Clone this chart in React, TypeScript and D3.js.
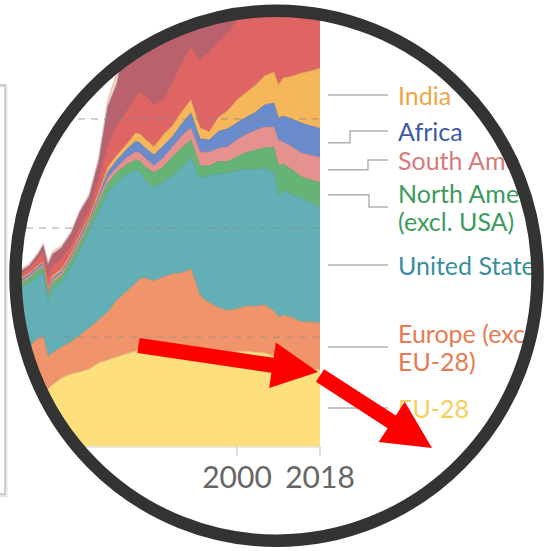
import React, { useRef, useEffect } from 'react';
import * as d3 from 'd3';

// years visible inside the magnifier
const years = [1952, 1955, 1957, 1958, 1959, 1960, 1962, 1964, 1966, 1968, 1970, 1972, 1974, 1976, 1978, 1979, 1980, 1982, 1984, 1986, 1988, 1990, 1992, 1994, 1996, 1998, 2000, 2002, 2004, 2006, 2008, 2009, 2010, 2012, 2014, 2016, 2018];

// annual CO2 emissions by region (billion tonnes)
const eu28 = [2.22, 2.36, 2.45, 2.5, 2.63, 2.82, 3.14, 3.32, 3.41, 3.55, 3.82, 3.96, 4.1, 4.24, 4.37, 4.42, 4.42, 4.19, 4.28, 4.33, 4.37, 4.42, 4.33, 4.28, 4.35, 4.3, 4.33, 4.36, 4.31, 4.28, 4.14, 3.82, 3.96, 3.78, 3.59, 3.55, 3.5];
const europeExcl = [2.11, 2.24, 2.52, 2.52, 1.47, 1.47, 1.42, 1.47, 1.69, 1.88, 1.97, 2.2, 2.61, 2.84, 3.11, 3.25, 3.3, 3.39, 3.48, 3.57, 3.57, 3.71, 2.56, 2.29, 2.01, 1.92, 1.97, 2.06, 2.11, 2.2, 2.06, 2.11, 2.06, 2.11, 2.11, 2.15, 2.15];
const unitedStates = [2.75, 2.88, 2.84, 2.93, 2.52, 2.93, 2.98, 3.43, 3.89, 4.49, 4.95, 5.45, 5.4, 5.36, 5.17, 4.9, 4.49, 4.26, 4.35, 4.49, 4.81, 5.08, 5.4, 5.82, 6.14, 6.27, 6.32, 6.27, 6.27, 6.27, 6.36, 5.54, 5.72, 5.63, 5.68, 5.45, 5.31];
const northAmericaExcl = [0.23, 0.23, 0.27, 0.27, 0.32, 0.27, 0.27, 0.27, 0.32, 0.27, 0.41, 0.46, 0.46, 0.46, 0.46, 0.5, 0.6, 0.69, 0.69, 0.87, 0.92, 0.82, 0.55, 0.46, 0.55, 0.55, 0.64, 0.78, 0.87, 0.92, 1.14, 1.37, 1.19, 1.14, 0.96, 1.05, 1.14];
const southAmerica = [0.09, 0.09, 0.09, 0.09, 0.14, 0.14, 0.14, 0.14, 0.18, 0.14, 0.18, 0.23, 0.23, 0.32, 0.37, 0.37, 0.41, 0.32, 0.41, 0.46, 0.55, 0.55, 0.64, 0.64, 0.6, 0.69, 0.78, 0.82, 0.92, 0.96, 0.92, 1.19, 1.01, 1.05, 1.1, 1.14, 1.14];
const africa = [0.09, 0.09, 0.09, 0.09, 0.09, 0.09, 0.09, 0.09, 0.14, 0.09, 0.14, 0.27, 0.32, 0.37, 0.5, 0.46, 0.46, 0.5, 0.55, 0.46, 0.55, 0.69, 0.6, 0.55, 0.78, 0.82, 0.78, 0.78, 0.82, 1.01, 1.1, 1.01, 1.19, 1.28, 1.37, 1.33, 1.33];
const india = [0.05, 0.05, 0.05, 0.05, 0.05, 0.09, 0.09, 0.09, 0.09, 0.09, 0.14, 0.23, 0.23, 0.23, 0.37, 0.41, 0.41, 0.37, 0.5, 0.5, 0.55, 0.6, 0.5, 0.37, 0.64, 0.82, 1.05, 1.14, 1.24, 1.33, 1.42, 1.51, 1.74, 1.97, 2.29, 2.52, 2.75];
const china = [0.23, 0.23, 0.32, 0.46, 0.5, 0.5, 0.46, 0.41, 0.37, 0.37, 0.6, 0.96, 1.37, 1.51, 1.65, 1.92, 2.01, 1.92, 1.6, 2.01, 2.29, 2.38, 3.11, 3.66, 3.48, 3.57, 3.66, 4.03, 5.04, 6.23, 7.42, 8.2, 8.61, 9.43, 9.75, 9.66, 9.98];
const asiaExcl = [0.09, 0.09, 0.18, 0.27, 0.55, 0.46, 0.5, 0.5, 0.64, 0.55, 0.78, 1.74, 1.83, 3.3, 3.98, 4.21, 4.35, 4.58, 4.58, 4.67, 4.67, 4.95, 5.04, 5.13, 5.13, 5.13, 5.04, 4.81, 5.0, 5.3, 5.6, 5.6, 5.9, 6.2, 6.4, 6.5, 6.7];
const oceania = [0.03, 0.03, 0.03, 0.03, 0.03, 0.03, 0.03, 0.03, 0.03, 0.03, 0.05, 0.09, 0.09, 0.1, 0.1, 0.1, 0.1, 0.1, 0.1, 0.1, 0.1, 0.1, 0.1, 0.1, 0.1, 0.1, 0.1, 0.1, 0.1, 0.1, 0.1, 0.1, 0.1, 0.1, 0.1, 0.1, 0.1];
const transport = [0.09, 0.09, 0.09, 0.09, 0.14, 0.14, 0.09, 0.09, 0.09, 0.14, 0.18, 0.3, 0.51, 0.65, 0.7, 0.7, 0.7, 0.7, 0.72, 0.75, 0.78, 0.8, 0.82, 0.85, 0.9, 0.95, 1.0, 1.0, 1.05, 1.1, 1.15, 1.1, 1.15, 1.15, 1.2, 1.2, 1.25];

const regionNames = ['EU-28', 'Europe (excl. EU-28)', 'United States', 'North America (excl. USA)', 'South America', 'Africa', 'India', 'China', 'Asia (excl. China & India)', 'Oceania', 'International transport'];
const regionValues = [eu28, europeExcl, unitedStates, northAmericaExcl, southAmerica, africa, india, china, asiaExcl, oceania, transport];
const fillColors = ['#fddf7d', '#f0956b', '#63afb6', '#66b475', '#e4918f', '#6a8bcb', '#f6b65a', '#df6464', '#b9626e', '#b58ac6', '#f8d3b6'];

const tickYears = [2000, 2018];
const gridValues = [5, 10, 15];

// right-hand labels: region, text lines, text colour, label y, elbow x
const labelRows = [
  { region: 'India', lines: ['India'], color: '#eda547', y: 95, elbow: 0 },
  { region: 'Africa', lines: ['Africa'], color: '#3d5aa6', y: 131, elbow: 350 },
  { region: 'South America', lines: ['South America'], color: '#d9797c', y: 160, elbow: 368 },
  { region: 'North America (excl. USA)', lines: ['North America', '(excl. USA)'], color: '#3e9a5d', y: 207, elbow: 369 },
  { region: 'United States', lines: ['United States'], color: '#3b8e9b', y: 265, elbow: 0 },
  { region: 'Europe (excl. EU-28)', lines: ['Europe (excl.', 'EU-28)'], color: '#e57c52', y: 347, elbow: 0 },
  { region: 'EU-28', lines: ['EU-28'], color: '#f4d05a', y: 408, elbow: 0 },
];

const W = 549;
const H = 551;

function arrowPoints(x1: number, y1: number, x2: number, y2: number, shaft: number, headL: number, headW: number) {
  const a = Math.atan2(y2 - y1, x2 - x1);
  const ux = Math.cos(a), uy = Math.sin(a);
  const px = -uy, py = ux;
  const bx = x2 - ux * headL, by = y2 - uy * headL;
  const pts = [
    [x1 + px * shaft / 2, y1 + py * shaft / 2],
    [bx + px * shaft / 2, by + py * shaft / 2],
    [bx + px * headW / 2, by + py * headW / 2],
    [x2, y2],
    [bx - px * headW / 2, by - py * headW / 2],
    [bx - px * shaft / 2, by - py * shaft / 2],
    [x1 - px * shaft / 2, y1 - py * shaft / 2],
  ];
  return pts.map(p => p.join(',')).join(' ');
}

export default function App() {
  const ref = useRef<SVGSVGElement>(null);

  useEffect(() => {
    if (!ref.current) return;
    const svg = d3.select(ref.current);
    svg.selectAll('*').remove();

    const x = d3.scaleLinear().domain([2000, 2018]).range([237, 320]);
    const y = d3.scaleLinear().domain([0, 20]).range([446.5, 9.7]);

    const rows = years.map((yr, i) => {
      const row: any = { year: yr };
      regionNames.forEach((n, k) => (row[n] = regionValues[k][i]));
      return row;
    });
    const layers = d3.stack().keys(regionNames)(rows);

    svg.append('rect').attr('width', W).attr('height', H).attr('fill', '#fff');

    // edge of the panel behind the magnifier
    const panel = svg.append('g');
    panel.append('path').attr('d', 'M0,86 L6,86 L6,496 L0,496').attr('fill', 'none').attr('stroke', '#e6e6e6').attr('stroke-width', 3);
    panel.append('path').attr('d', 'M0,85 L5,85 L5,494 L0,494').attr('fill', 'none').attr('stroke', '#bdbdbd').attr('stroke-width', 1.3);

    const cx = 276.5, cy = 275.7, rx = 261, ry = 265;
    svg.append('defs').append('clipPath').attr('id', 'lens')
      .append('ellipse').attr('cx', cx).attr('cy', cy).attr('rx', rx - 4).attr('ry', ry - 4);

    const g = svg.append('g').attr('clip-path', 'url(#lens)');
    g.append('rect').attr('width', W).attr('height', H).attr('fill', '#fff');

    const area = d3.area<any>()
      .x(d => x(d.data.year))
      .y0(d => y(d[0]))
      .y1(d => y(d[1]));
    const top = d3.line<any>().x(d => x(d.data.year)).y(d => y(d[1]));

    g.selectAll('path.layer')
      .data(layers)
      .enter()
      .append('path')
      .attr('class', 'layer')
      .attr('fill', (d, i) => fillColors[i])
      .attr('d', area as any);

    g.selectAll('path.edge')
      .data(layers)
      .enter()
      .append('path')
      .attr('class', 'edge')
      .attr('fill', 'none')
      .attr('stroke', (d, i) => d3.color(fillColors[i])!.darker(0.35).toString())
      .attr('stroke-width', 0.8)
      .attr('d', top as any);

    // dashed gridlines over the areas
    g.selectAll('line.grid')
      .data(gridValues)
      .enter()
      .append('line')
      .attr('x1', 0)
      .attr('x2', x(2018))
      .attr('y1', d => y(d))
      .attr('y2', d => y(d))
      .attr('stroke', '#8a8a8a')
      .attr('stroke-opacity', 0.45)
      .attr('stroke-width', 1.6)
      .attr('stroke-dasharray', '7,6');

    // x axis
    g.append('line').attr('x1', 0).attr('x2', x(2018)).attr('y1', y(0) + 0.5).attr('y2', y(0) + 0.5)
      .attr('stroke', '#d6d6d6').attr('stroke-width', 1.2);
    tickYears.forEach(t => {
      g.append('line').attr('x1', x(t)).attr('x2', x(t)).attr('y1', y(0)).attr('y2', y(0) + 9)
        .attr('stroke', '#c4c4c4').attr('stroke-width', 1.2);
      g.append('text').attr('x', x(t)).attr('y', 488).attr('text-anchor', 'middle')
        .attr('font-family', 'Lato, sans-serif').attr('font-size', 30).attr('fill', '#666')
        .text(String(t));
    });

    // labels with connector lines
    const last = years.length - 1;
    labelRows.forEach(lb => {
      const layer = layers[regionNames.indexOf(lb.region)];
      const mid = y((layer[last][0] + layer[last][1]) / 2);
      const x0 = x(2018) + 8, x1 = 388;
      const dPath = lb.elbow && Math.abs(mid - lb.y) > 3
        ? `M${x0},${mid} H${lb.elbow} V${lb.y} H${x1}`
        : `M${x0},${lb.y} H${x1}`;
      g.append('path').attr('d', dPath).attr('fill', 'none').attr('stroke', '#b0b0b0').attr('stroke-width', 1.4);
      const n = lb.lines.length;
      lb.lines.forEach((t, k) => {
        g.append('text')
          .attr('x', 398)
          .attr('y', lb.y + (k - (n - 1) / 2) * 28)
          .attr('dominant-baseline', 'central')
          .attr('font-family', 'Lato, sans-serif')
          .attr('font-size', 25)
          .attr('fill', lb.color)
          .text(t);
      });
    });

    // magnifier ring
    svg.append('ellipse').attr('cx', cx).attr('cy', cy).attr('rx', rx).attr('ry', ry)
      .attr('fill', 'none').attr('stroke', '#333').attr('stroke-width', 12.5);

    // red arrows
    svg.append('polygon').attr('points', arrowPoints(138.5, 345.5, 318, 372, 15, 46, 46)).attr('fill', '#ff0000');
    svg.append('polygon').attr('points', arrowPoints(320, 375.5, 432, 448, 15, 48, 48)).attr('fill', '#ff0000');
  }, []);

  return (
    <svg
      ref={ref}
      width={W}
      height={H}
      style={{ position: 'absolute', left: 0, top: 0, display: 'block' }}
    />
  );
}
